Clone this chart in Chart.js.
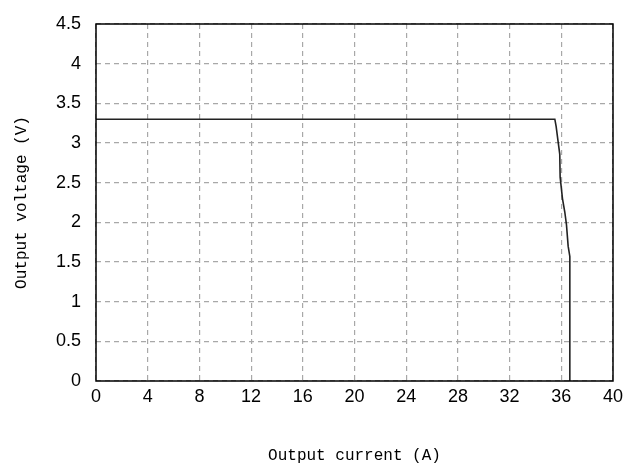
<!DOCTYPE html>
<html lang="en">
<head>
<meta charset="UTF-8">
<title>Output voltage vs output current</title>
<script src="https://cdn.jsdelivr.net/npm/chart.js"></script>
<style>
  html, body { margin: 0; padding: 0; background: #fff; }
  #wrap { width: 638px; height: 468px; }
</style>
</head>
<body>
<div id="wrap"><canvas id="myChart" width="638" height="468"></canvas></div>
<script>
  // Curve
  const currentA = [0, 35.5, 35.6, 35.75, 35.88, 35.91, 36.09, 36.27, 36.4, 36.53, 36.66, 36.66];
  const voltageV = [3.3, 3.3, 3.21, 3.02, 2.86, 2.57, 2.3, 2.13, 1.97, 1.7, 1.57, 0];

  const xTitle = 'Output current (A)';
  const yTitle = 'Output voltage (V)';

  const points = currentA.map((x, i) => ({ x: x, y: voltageV[i] }));

  // box round the plot area (Chart.js only draws left/bottom borders)
  const frame = {
    id: 'frame',
    afterDraw(chart) {
      const { ctx, chartArea: a } = chart;
      ctx.save();
      ctx.strokeStyle = '#000';
      ctx.lineWidth = 1.5;
      ctx.strokeRect(a.left, a.top, a.right - a.left, a.bottom - a.top);
      ctx.restore();
    }
  };

  const tickFont = { family: 'Liberation Sans', size: 18, lineHeight: 1 };
  const titleFont = { family: 'Liberation Mono', size: 16 };

  new Chart(document.getElementById('myChart'), {
    type: 'scatter',
    data: {
      datasets: [{
        data: points,
        showLine: true,
        borderColor: '#222',
        borderWidth: 1.6,
        pointRadius: 0,
        tension: 0,
        fill: false
      }]
    },
    options: {
      responsive: false,
      animation: false,
      layout: { padding: { top: 17, right: 25, left: 0, bottom: 0 } },
      plugins: { legend: { display: false }, tooltip: { enabled: false } },
      scales: {
        x: {
          type: 'linear',
          min: 0,
          max: 40,
          afterFit: (s) => { s.height = 87; },
          ticks: { stepSize: 4, color: '#000', font: tickFont, padding: 7, maxRotation: 0 },
          grid: { color: '#a8a8a8', lineWidth: 1.2, drawTicks: false },
          border: { display: false, dash: [5, 4] },
          title: { display: true, text: xTitle, color: '#000', font: titleFont, padding: { top: 3, bottom: 3 } }
        },
        y: {
          type: 'linear',
          min: 0,
          max: 4.5,
          afterFit: (s) => { s.width = 96; },
          ticks: { stepSize: 0.5, color: '#000', font: tickFont, padding: 15, callback: (v) => String(v) },
          grid: { color: '#a8a8a8', lineWidth: 1.2, drawTicks: false },
          border: { display: false, dash: [5, 4] },
          title: { display: true, text: yTitle, color: '#000', font: titleFont, padding: { top: 12, bottom: 12 } }
        }
      }
    },
    plugins: [frame]
  });
</script>
</body>
</html>
